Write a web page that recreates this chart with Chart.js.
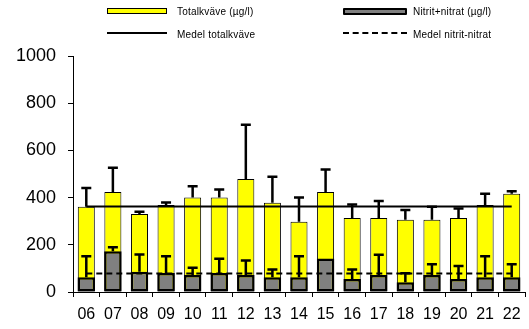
<!DOCTYPE html>
<html>
<head>
<meta charset="utf-8">
<script src="https://cdn.jsdelivr.net/npm/chart.js@4.4.1/dist/chart.umd.min.js"></script>
<style>
  html, body { margin: 0; padding: 0; background: #fff; }
  #wrap { position: relative; width: 529px; height: 329px; font-family: "Liberation Sans", Arial, sans-serif; }
  canvas { position: absolute; left: 0; top: 0; }
  .lg { position: absolute; font-size: 10px; color: #000; line-height: 10px; white-space: nowrap; letter-spacing: 0.2px; }
  .sw { position: absolute; box-sizing: border-box; }
</style>
</head>
<body>
<div id="wrap">
  <canvas id="c" width="529" height="329"></canvas>
  <div class="sw" style="left:107px;top:8px;width:60px;height:6px;background:#ffff00;border:1px solid #000;"></div>
  <div class="lg" style="left:177px;top:7px;">Totalkväve (µg/l)</div>
  <div class="sw" style="left:343px;top:8px;width:64px;height:7px;background:#808080;border:2px solid #000;border-radius:1px;"></div>
  <div class="lg" style="left:413px;top:7px;">Nitrit+nitrat (µg/l)</div>
  <div class="sw" style="left:107px;top:32px;width:60px;height:0;border-top:2px solid #000;"></div>
  <div class="lg" style="left:177px;top:30px;">Medel totalkväve</div>
  <div class="sw" style="left:343px;top:32px;width:64px;height:0;border-top:2px dashed #000;"></div>
  <div class="lg" style="left:413px;top:30px;">Medel nitrit-nitrat</div>
</div>
<script>
const categories = ["06","07","08","09","10","11","12","13","14","15","16","17","18","19","20","21","22"];
const totalValues = [361,424,331,369,400,400,479,378,298,424,314,314,306,306,314,369,416];
const totalErr    = [80,102,9,10,48,34,230,110,102,95,57,72,41,55,40,47,11];
const nitratValues = [63,173,86,80,72,80,72,63,63,142,55,72,41,72,55,63,63];
const nitratErr    = [88,17,73,71,31,61,62,32,88,0,40,86,38,46,55,88,55];
const meanTotal = 362;
const meanNitrat = 78;
const yTicks = [0,200,400,600,800,1000];
const yTickLabels = ["0","200","400","600","800","1000"];

const errMap = { 0: totalErr, 1: nitratErr };

const errorBars = {
  id: 'errorBars',
  afterDatasetDraw(chart, args) {
    const errs = errMap[args.index];
    if (!errs) return;
    const ctx = chart.ctx;
    const ys = chart.scales.y;
    const vals = chart.data.datasets[args.index].data;
    ctx.save();
    ctx.strokeStyle = '#000';
    ctx.lineWidth = 2.5;
    args.meta.data.forEach((bar, i) => {
      if (!errs[i]) return;
      const y0 = ys.getPixelForValue(vals[i]);
      const y1 = ys.getPixelForValue(vals[i] + errs[i]);
      const x = bar.x;
      ctx.beginPath();
      ctx.moveTo(x, y0);
      ctx.lineTo(x, y1);
      ctx.moveTo(x - 5, y1);
      ctx.lineTo(x + 5, y1);
      ctx.stroke();
    });
    ctx.restore();
  }
};

new Chart(document.getElementById('c'), {
  data: {
    labels: categories,
    datasets: [
      {
        type: 'bar', label: 'Totalkväve (µg/l)', data: totalValues,
        backgroundColor: '#ffff00', borderColor: '#000', borderWidth: 1,
        borderSkipped: false, barPercentage: 0.64, categoryPercentage: 1,
        grouped: false, order: 4
      },
      {
        type: 'bar', label: 'Nitrit+nitrat (µg/l)', data: nitratValues,
        backgroundColor: '#808080', borderColor: '#000', borderWidth: 2.5,
        borderSkipped: false, barPercentage: 0.66, categoryPercentage: 1,
        grouped: false, order: 3
      },
      {
        type: 'line', label: 'Medel totalkväve', data: categories.map(() => meanTotal),
        borderColor: '#000', borderWidth: 2, pointRadius: 0, fill: false, order: 2
      },
      {
        type: 'line', label: 'Medel nitrit-nitrat', data: categories.map(() => meanNitrat),
        borderColor: '#000', borderWidth: 2, borderDash: [6, 4], pointRadius: 0, fill: false, order: 1
      }
    ]
  },
  options: {
    responsive: false,
    animation: false,
    layout: { padding: { top: 56, right: 4, bottom: 0, left: 0 } },
    plugins: { legend: { display: false }, tooltip: { enabled: false } },
    scales: {
      x: {
        offset: true,
        grid: { display: true, offset: true, drawOnChartArea: false, color: '#000', tickLength: 5, lineWidth: 1 },
        border: { display: true, color: '#000', width: 1 },
        ticks: { color: '#000', font: { family: 'Liberation Sans', size: 16 }, padding: 8, maxRotation: 0, autoSkip: false },
        afterFit: s => { s.height = 37; }
      },
      y: {
        min: 0, max: 1000,
        afterBuildTicks: s => { s.ticks = yTicks.map(v => ({ value: v })); },
        grid: { display: true, drawOnChartArea: false, color: '#000', tickLength: 5, lineWidth: 1 },
        border: { display: true, color: '#000', width: 1 },
        ticks: {
          color: '#000', font: { family: 'Liberation Sans', size: 18 }, padding: 12,
          callback: (v, i) => yTickLabels[i]
        },
        afterFit: s => { s.width = 73; }
      }
    }
  },
  plugins: [errorBars]
});
</script>
</body>
</html>
